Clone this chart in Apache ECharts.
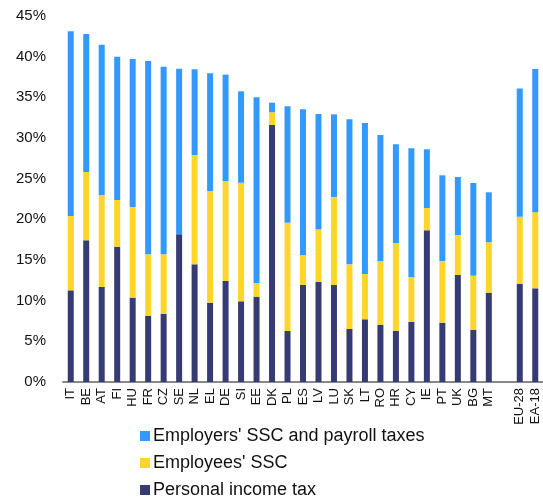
<!DOCTYPE html>
<html>
<head>
<meta charset="utf-8">
<script src="https://cdn.jsdelivr.net/npm/echarts@6/dist/echarts.min.js"></script>
<style>html,body{margin:0;padding:0;background:#fff}#c{width:543px;height:499px}</style>
</head>
<body>
<div id="c"></div>
<script>
var categories = ['IT','BE','AT','FI','HU','FR','CZ','SE','NL','EL','DE','SI','EE','DK','PL','ES','LV','LU','SK','LT','RO','HR','CY','IE','PT','UK','BG','MT','','EU-28','EA-18'];
var personalIncomeTax = [11.27,17.42,11.68,16.64,10.37,8.15,8.36,18.16,14.47,9.75,12.42,9.92,10.49,31.6,6.27,11.93,12.3,11.93,6.52,7.71,7.05,6.31,7.38,18.65,7.29,13.16,6.43,10.98,'-',12.05,11.52];
var employeesSSC = [9.14,8.40,11.31,5.74,11.15,7.55,7.34,0,13.44,13.73,12.29,14.58,1.68,1.56,13.32,3.69,6.47,10.82,7.95,5.57,7.83,10.78,5.53,2.74,7.59,4.91,6.64,6.20,'-',8.27,9.35];
var employersSSC = [22.71,16.97,18.48,17.62,18.19,23.77,23.07,20.36,10.54,14.48,13.08,11.24,22.83,1.18,14.31,17.91,14.18,10.16,17.83,18.57,15.49,12.14,15.82,7.22,10.53,7.13,11.4,6.14,'-',15.78,17.62];
var yTicks = [0,5,10,15,20,25,30,35,40,45];

var chart = echarts.init(document.getElementById('c'), null, {renderer:'canvas'});
var font = 'Liberation Sans, Arial, sans-serif';
chart.setOption({
  animation: false,
  legend: {
    orient: 'vertical', left: 140, top: 427, height: 90, padding: 0,
    itemWidth: 10, itemHeight: 10, itemGap: 9,
    icon: 'rect',
    textStyle: {fontFamily: font, fontSize: 18, color: '#111', padding: [0,0,0,-2]},
    data: ["Employers' SSC and payroll taxes", "Employees' SSC", 'Personal income tax']
  },
  grid: {left: 63, right: -3, top: 16, bottom: 117, containLabel: false},
  xAxis: {
    type: 'category', data: categories,
    axisLine: {lineStyle: {color: '#888', width: 2}},
    axisTick: {show: false},
    axisLabel: {rotate: 90, interval: 0, fontFamily: font, fontSize: 13, color: '#111', margin: 6}
  },
  yAxis: {
    type: 'value', min: yTicks[0], max: yTicks[yTicks.length - 1], interval: 5,
    axisLine: {show: false}, axisTick: {show: false}, splitLine: {show: false},
    axisLabel: {formatter: function(v){return v + '%';}, fontFamily: font, fontSize: 15, color: '#111', margin: 17}
  },
  series: [
    {name: 'Personal income tax', type: 'bar', stack: 't', data: personalIncomeTax, barWidth: 6, itemStyle: {color: '#363B73'}},
    {name: "Employees' SSC", type: 'bar', stack: 't', data: employeesSSC, barWidth: 6, itemStyle: {color: '#FFD52A'}},
    {name: "Employers' SSC and payroll taxes", type: 'bar', stack: 't', data: employersSSC, barWidth: 6, itemStyle: {color: '#3399FF'}}
  ]
});
</script>
</body>
</html>
